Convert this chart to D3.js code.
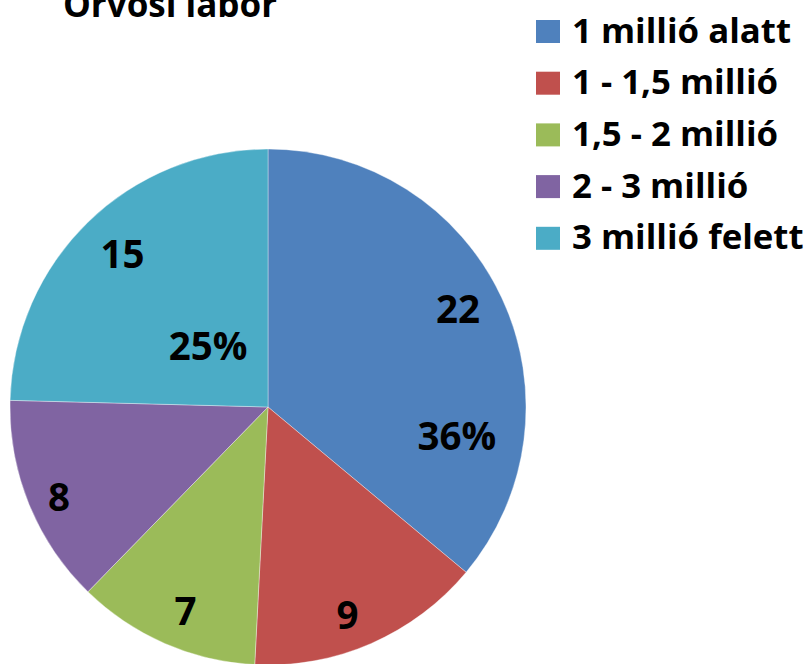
<!DOCTYPE html>
<html>
<head>
<meta charset="utf-8">
<script src="https://cdn.jsdelivr.net/npm/d3@7"></script>
<style>
  html, body { margin: 0; padding: 0; background: #fff; }
  svg { display: block; }
  text { font-family: "Open Sans", "Lato", sans-serif; font-weight: 700; fill: #000; }
</style>
</head>
<body>
<svg id="chart" width="810" height="664"></svg>
<script>
const title = "Orvosi labor";
const categories = ["1 millió alatt", "1 - 1,5 millió", "1,5 - 2 millió", "2 - 3 millió", "3 millió felett"];
const values = [22, 9, 7, 8, 15];
const showPercent = [true, false, false, false, true];
const colors = ["#4F81BD", "#C0504D", "#9BBB59", "#8064A2", "#4BACC6"];

// layout (label placement in polar terms: angle offset in degrees, radius fraction)
const valueLabelLayout = [[-2.4, 0.83], [2.6, 0.86], [-1.5, 0.85], [-0.9, 0.88], [0.8, 0.82]];
const pctLabelLayout   = [[33.6, 0.74], null, null, null, [0.3, 0.335]];

const svg = d3.select("#chart");
const cx = 268, cy = 407, R = 258;
const total = d3.sum(values);

const pie = d3.pie().sort(null).value(d => d)(values);
const arc = d3.arc().innerRadius(0).outerRadius(R);

const g = svg.append("g").attr("transform", `translate(${cx},${cy})`);

g.selectAll("path.slice").data(pie).join("path")
  .attr("class", "slice")
  .attr("d", arc)
  .attr("fill", (d, i) => colors[i])
  .attr("stroke", "#ffffff")
  .attr("stroke-opacity", 0.6)
  .attr("stroke-width", 0.6);

function polar(d, lay) {
  const a = (d.startAngle + d.endAngle) / 2 + lay[0] * Math.PI / 180;
  const r = R * lay[1];
  return [r * Math.sin(a), -r * Math.cos(a)];
}

g.selectAll("text.val").data(pie).join("text")
  .attr("class", "val")
  .attr("text-anchor", "middle")
  .attr("dominant-baseline", "central")
  .attr("font-size", 38.5)
  .attr("transform", (d, i) => { const p = polar(d, valueLabelLayout[i]); return `translate(${p[0]},${p[1]})`; })
  .text(d => d.data);

g.selectAll("text.pct").data(pie.filter((d, i) => showPercent[i])).join("text")
  .attr("class", "pct")
  .attr("text-anchor", "middle")
  .attr("dominant-baseline", "central")
  .attr("font-size", 38.5)
  .attr("transform", d => { const p = polar(d, pctLabelLayout[d.index]); return `translate(${p[0]},${p[1]})`; })
  .text(d => Math.round(d.data / total * 100) + "%");

svg.append("text")
  .attr("x", 63).attr("y", 17)
  .attr("font-size", 35)
  .text(title);

const legend = svg.append("g");
const rowH = 51.7;
const items = legend.selectAll("g.item").data(categories).join("g")
  .attr("class", "item")
  .attr("transform", (d, i) => `translate(536, ${20 + i * rowH})`);
items.append("rect").attr("width", 24).attr("height", 23).attr("fill", (d, i) => colors[i]);
items.append("text").attr("x", 36).attr("y", 22.5).attr("font-size", 34.8).text(d => d);
</script>
</body>
</html>
